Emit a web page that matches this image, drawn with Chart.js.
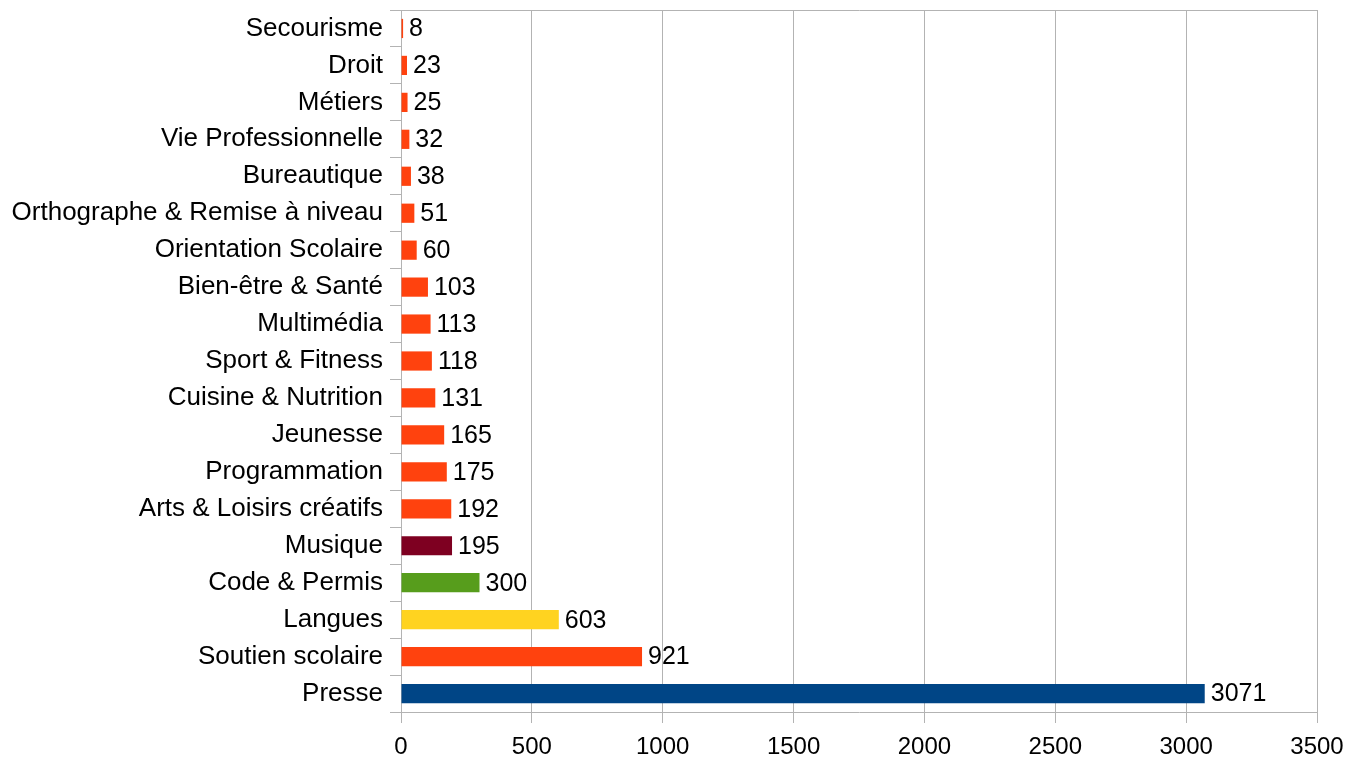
<!DOCTYPE html>
<html>
<head>
<meta charset="utf-8">
<script src="https://cdn.jsdelivr.net/npm/chart.js@4/dist/chart.umd.min.js"></script>
<style>
    html, body { margin: 0; padding: 0; background: #fff; }
    #wrap { width: 1349px; height: 760px; }
</style>
</head>
<body>
<div id="wrap"><canvas id="chart"></canvas></div>
<script>
const categories = [
    "Secourisme", "Droit", "Métiers", "Vie Professionnelle", "Bureautique",
    "Orthographe & Remise à niveau", "Orientation Scolaire", "Bien-être & Santé",
    "Multimédia", "Sport & Fitness", "Cuisine & Nutrition", "Jeunesse",
    "Programmation", "Arts & Loisirs créatifs", "Musique", "Code & Permis",
    "Langues", "Soutien scolaire", "Presse",
];
const values = [8, 23, 25, 32, 38, 51, 60, 103, 113, 118, 131, 165, 175, 192, 195, 300, 603, 921, 3071];
const barColors = [
    "#ff420e", "#ff420e", "#ff420e", "#ff420e", "#ff420e", "#ff420e", "#ff420e",
    "#ff420e", "#ff420e", "#ff420e", "#ff420e", "#ff420e", "#ff420e", "#ff420e",
    "#7e0021", "#579d1c", "#ffd320", "#ff420e", "#004586",
];
const xTicks = [0, 500, 1000, 1500, 2000, 2500, 3000, 3500];

const FONT = "'Liberation Sans', Arial, sans-serif";
const GRID = "#b3b3b3";

// draws the value right of each bar
const valueLabels = {
    id: "valueLabels",
    afterDatasetsDraw(chart) {
        const ctx = chart.ctx;
        const meta = chart.getDatasetMeta(0);
        ctx.save();
        ctx.font = "25px " + FONT;
        ctx.fillStyle = "#000";
        ctx.textAlign = "left";
        ctx.textBaseline = "middle";
        meta.data.forEach((bar, i) => {
            ctx.fillText(String(values[i]), bar.x + 6, bar.y + 1);
        });
        ctx.restore();
    },
};

new Chart(document.getElementById("chart"), {
    type: "bar",
    data: {
        labels: categories,
        datasets: [{
            data: values,
            backgroundColor: barColors,
            borderWidth: 0,
            categoryPercentage: 1,
            barPercentage: 0.52,
        }],
    },
    options: {
        indexAxis: "y",
        responsive: true,
        maintainAspectRatio: false,
        animation: false,
        layout: { padding: { top: 10, right: 32, left: 0, bottom: 0 } },
        plugins: { legend: { display: false }, tooltip: { enabled: false } },
        scales: {
            x: {
                min: 0,
                max: 3500,
                afterBuildTicks: (s) => { s.ticks = xTicks.map((v) => ({ value: v })); },
                afterFit: (s) => {
                    s.height = 48;
                    s.paddingLeft = 0;
                    s.paddingRight = 0;
                },
                border: { color: GRID, width: 1 },
                grid: { color: GRID, tickLength: 11, tickColor: GRID },
                ticks: {
                    color: "#000",
                    font: { family: FONT, size: 24 },
                    padding: 10,
                    maxRotation: 0,
                    callback: (v) => String(v),
                },
            },
            y: {
                afterFit: (s) => {
                    s.width = 401;
                    s.paddingTop = 0;
                    s.paddingBottom = 0;
                },
                border: { color: GRID, width: 1 },
                grid: {
                    color: (c) => (c.index === 0 ? GRID : "rgba(0,0,0,0)"),
                    tickColor: GRID,
                    tickLength: 11,
                },
                ticks: { color: "#000", font: { family: FONT, size: 26 }, padding: 7, autoSkip: false },
            },
        },
    },
    plugins: [valueLabels],
});
</script>
</body>
</html>
